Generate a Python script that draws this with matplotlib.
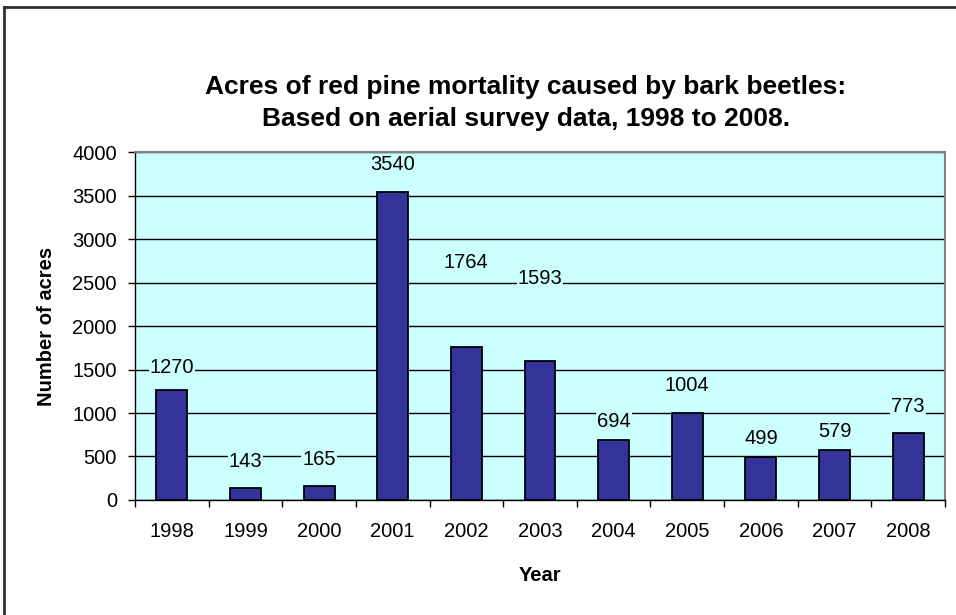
import matplotlib
matplotlib.use("Agg")
import matplotlib.pyplot as plt
from matplotlib.lines import Line2D

plt.rcParams['font.family'] = ['Liberation Sans', 'DejaVu Sans']

years = ['1998', '1999', '2000', '2001', '2002', '2003', '2004', '2005', '2006', '2007', '2008']
acres = [1270, 143, 165, 3540, 1764, 1593, 694, 1004, 499, 579, 773]
y_ticks = [0, 500, 1000, 1500, 2000, 2500, 3000, 3500, 4000]

title = 'Acres of red pine mortality caused by bark beetles:\nBased on aerial survey data, 1998 to 2008.'

# vertical gap (points) between each bar top and its value label
label_gap = [9, 12, 12, 13, 54, 53, 6, 13, 6, 6, 12]

bg = '#CCFFFF'
bar_color = '#333399'
fs = 14.5

fig = plt.figure(figsize=(9.56, 6.15), dpi=100)
ax = fig.add_axes([0.1412, 0.187, 0.8473, 0.5658])
ax.set_facecolor(bg)

x = list(range(len(years)))
ax.bar(x, acres, width=0.42, color=bar_color, edgecolor='black', linewidth=1.3, zorder=3)

ax.set_xlim(-0.5, len(years) - 0.5)
ax.set_ylim(0, 4000)
ax.set_yticks(y_ticks)
ax.set_yticklabels([str(v) for v in y_ticks], fontsize=fs)
ax.set_xticks([i + 0.5 for i in range(-1, len(years))], minor=False)
ax.set_xticklabels([])
ax.set_xticks(x, minor=True)
ax.set_xticklabels(years, minor=True, fontsize=fs)
ax.tick_params(axis='x', which='major', length=5, width=1, color='black', direction='out')
ax.tick_params(axis='x', which='minor', length=0, pad=16)
ax.tick_params(axis='y', length=5, width=1, direction='out', pad=8)

ax.yaxis.grid(True, color='black', linewidth=1.0, zorder=1)
ax.set_axisbelow(True)

for side in ('top', 'right'):
    ax.spines[side].set_color('#808080')
    ax.spines[side].set_linewidth(1.5)
for side in ('left', 'bottom'):
    ax.spines[side].set_color('black')
    ax.spines[side].set_linewidth(1.0)

for xi, v, g in zip(x, acres, label_gap):
    ax.annotate(str(v), (xi, v), xytext=(0, g), textcoords='offset points',
                ha='center', va='bottom', fontsize=fs, zorder=4,
                bbox=dict(boxstyle='square,pad=0.05', facecolor=bg, edgecolor='none'))

ax.set_ylabel('Number of acres', fontsize=fs, fontweight='bold', labelpad=12)
ax.set_xlabel('Year', fontsize=fs, fontweight='bold', labelpad=18)

fig.text(0.5502, 0.8318, title, ha='center', va='center', fontsize=19,
         fontweight='bold', linespacing=1.42)

# chart area frame (left and top edges visible)
fig.add_artist(Line2D([0.0047, 0.0047], [0.0, 0.989], transform=fig.transFigure,
                      color='#303030', linewidth=2))
fig.add_artist(Line2D([0.0047, 1.0], [0.989, 0.989], transform=fig.transFigure,
                      color='#303030', linewidth=2))

fig.savefig('out.png', dpi=100)
